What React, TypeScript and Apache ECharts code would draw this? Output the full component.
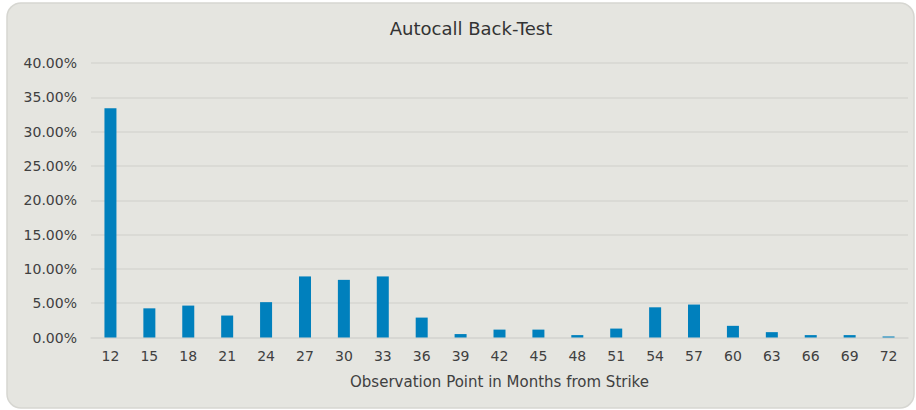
import React, { useEffect, useRef } from "react";
import * as echarts from "echarts";

const categories = ["12","15","18","21","24","27","30","33","36","39","42","45","48","51","54","57","60","63","66","69","72"];
const values = [33.4,4.25,4.65,3.2,5.15,8.9,8.4,8.9,2.9,0.5,1.15,1.15,0.35,1.3,4.4,4.8,1.7,0.78,0.35,0.35,0.15];
const yTicks = [0,5,10,15,20,25,30,35,40];

export default function App() {
  const ref = useRef<HTMLDivElement>(null);
  useEffect(() => {
    const chart = echarts.init(ref.current!, null, { renderer: "svg" });
    const font = "DejaVu Sans";
    chart.setOption({
      animation: false,
      backgroundColor: "#ffffff",
      textStyle: { fontFamily: font },
      graphic: [
        {
          type: "rect",
          z: -10,
          silent: true,
          shape: { x: 7, y: 3, width: 907, height: 405, r: 14 },
          style: { fill: "#e5e5e0", stroke: "#d6d6d1", lineWidth: 1.5 },
        },
      ],
      title: {
        text: "Autocall Back-Test",
        left: 466,
        textAlign: "center",
        top: 14,
        textStyle: { fontFamily: font, fontSize: 18, fontWeight: "normal", color: "#333333" },
      },
      grid: { left: 91, right: 8, top: 63, bottom: 72.5 },
      xAxis: {
        type: "category",
        data: categories,
        name: "Observation Point in Months from Strike",
        nameLocation: "middle",
        nameGap: 37,
        nameTextStyle: { fontFamily: font, fontSize: 15, color: "#404040" },
        axisLine: { show: true, lineStyle: { color: "#d6d6d2", width: 1.5 } },
        axisTick: { show: false },
        axisLabel: { fontFamily: font, fontSize: 14, color: "#404040", margin: 11 },
      },
      yAxis: {
        type: "value",
        min: 0,
        max: 40,
        interval: 5,
        axisLine: { show: false },
        axisTick: { show: false },
        splitLine: { lineStyle: { color: "#d6d6d2", width: 1.5 } },
        axisLabel: {
          fontFamily: font,
          fontSize: 14,
          color: "#404040",
          margin: 14,
          formatter: (v: number) => (yTicks.includes(v) ? v.toFixed(2) + "%" : ""),
        },
      },
      series: [
        {
          type: "bar",
          data: values,
          barWidth: 12,
          itemStyle: { color: "#0080bd" },
        },
      ],
    });
    return () => chart.dispose();
  }, []);
  return (
    <div
      ref={ref}
      style={{ position: "fixed", left: 0, top: 0, width: 916, height: 410 }}
    />
  );
}
